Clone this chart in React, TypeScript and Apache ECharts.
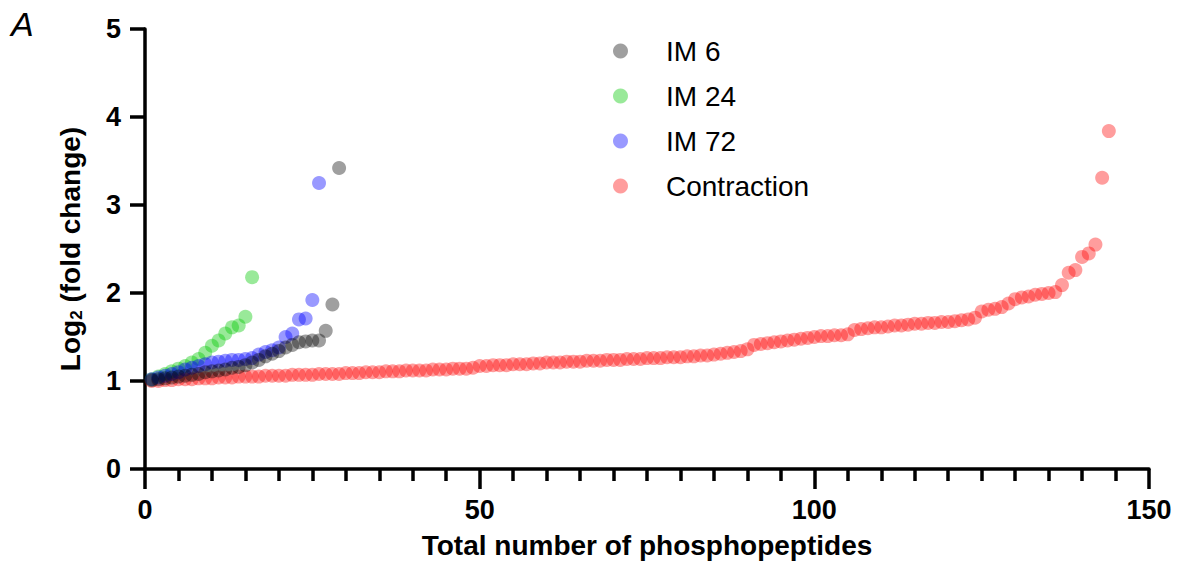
import React, { useEffect, useRef } from "react";
import * as echarts from "echarts";

const seriesNames = ["IM 6", "IM 24", "IM 72", "Contraction"];

const im6Values = [
  1.01, 1.02, 1.03, 1.04, 1.05, 1.06, 1.07, 1.08, 1.1, 1.11,
  1.12, 1.13, 1.15, 1.16, 1.18, 1.21, 1.24, 1.28, 1.31, 1.34,
  1.38, 1.41, 1.44, 1.45, 1.46, 1.46, 1.57, 1.87, 3.42,
];

const im24Values = [
  1.02, 1.05, 1.08, 1.11, 1.14, 1.17, 1.21, 1.25, 1.32, 1.4,
  1.46, 1.54, 1.61, 1.63, 1.73, 2.18,
];

const im72Values = [
  1.02, 1.04, 1.06, 1.08, 1.1, 1.13, 1.15, 1.17, 1.19, 1.21,
  1.22, 1.23, 1.24, 1.24, 1.25, 1.26, 1.3, 1.33, 1.35, 1.38,
  1.5, 1.54, 1.7, 1.71, 1.92, 3.25,
];

const contractionValues = [
  1.0, 1.0, 1.01, 1.01, 1.02, 1.02, 1.02, 1.03, 1.03, 1.03,
  1.04, 1.04, 1.04, 1.05, 1.05, 1.05, 1.05, 1.06, 1.06, 1.06,
  1.06, 1.07, 1.07, 1.07, 1.07, 1.08, 1.08, 1.08, 1.08, 1.09,
  1.09, 1.09, 1.1, 1.1, 1.1, 1.11, 1.11, 1.11, 1.12, 1.12,
  1.12, 1.12, 1.13, 1.13, 1.13, 1.14, 1.14, 1.14, 1.15,
  1.17, 1.17, 1.18, 1.18, 1.18, 1.19, 1.19, 1.19, 1.2, 1.2, 1.21,
  1.21, 1.21, 1.22, 1.22, 1.22, 1.23, 1.23, 1.23, 1.24, 1.24,
  1.24, 1.25, 1.25, 1.25, 1.26, 1.26, 1.26, 1.27, 1.27, 1.27,
  1.28, 1.28, 1.29, 1.29, 1.3, 1.31, 1.32, 1.33, 1.34, 1.36,
  1.41, 1.42, 1.43, 1.44, 1.45, 1.46, 1.47, 1.48, 1.49, 1.5,
  1.51, 1.51, 1.52, 1.52, 1.53,
  1.58, 1.59, 1.6, 1.61, 1.61, 1.62, 1.63, 1.63, 1.64, 1.65,
  1.65, 1.66, 1.66, 1.67, 1.67, 1.68, 1.69, 1.7, 1.72, 1.79,
  1.81, 1.82, 1.84, 1.88, 1.93, 1.95, 1.96, 1.98, 1.99, 2.0,
  2.01, 2.09, 2.23, 2.26, 2.41, 2.45, 2.55, 3.31, 3.84,
];

const seriesColors = [
  "rgba(0,0,0,0.47)",
  "rgba(0,200,0,0.5)",
  "rgba(0,0,255,0.5)",
  "rgba(255,0,0,0.48)",
];

const xTickLabels = [0, 50, 100, 150];
const yTickLabels = [0, 1, 2, 3, 4, 5];

const FONT = "'Liberation Sans', Arial, Helvetica, sans-serif";

function toPoints(values: number[]) {
  return values.map((v, i) => [i + 1, v]);
}

export default function App() {
  const ref = useRef<HTMLDivElement>(null);

  useEffect(() => {
    if (!ref.current) return;
    const chart = echarts.init(ref.current, undefined, { renderer: "svg" });
    const allValues = [im6Values, im24Values, im72Values, contractionValues];
    const drawOrder = [3, 1, 2, 0];
    const axisLine = { show: true, lineStyle: { color: "#000", width: 3.5 } };
    chart.setOption({
      animation: false,
      backgroundColor: "#fff",
      textStyle: { fontFamily: FONT },
      grid: { left: 145, right: 35, top: 29, bottom: 94, containLabel: false },
      legend: {
        data: seriesNames,
        orient: "vertical",
        left: 608,
        top: 31,
        icon: "circle",
        itemWidth: 15,
        itemHeight: 15,
        itemGap: 15,
        textStyle: {
          fontSize: 28,
          color: "#000",
          fontFamily: FONT,
          padding: [0, 0, 0, 33],
          lineHeight: 30,
        },
      },
      graphic: [
        {
          type: "text",
          left: 11,
          top: 7,
          style: {
            text: "A",
            fontSize: 34,
            fontStyle: "italic",
            fontFamily: FONT,
            fill: "#000",
          },
        },
      ],
      xAxis: {
        type: "value",
        min: xTickLabels[0],
        max: xTickLabels[xTickLabels.length - 1],
        interval: 50,
        name: "Total number of phosphopeptides",
        nameLocation: "middle",
        nameGap: 62,
        nameTextStyle: { fontSize: 28, fontWeight: "bold", color: "#000", fontFamily: FONT },
        axisLine,
        axisTick: { show: true, length: 20, lineStyle: { color: "#000", width: 3.5 } },
        minorTick: { show: true, splitNumber: 10, length: 12, lineStyle: { color: "#000", width: 3.5 } },
        axisLabel: { fontSize: 27, fontWeight: "bold", color: "#000", margin: 27, fontFamily: FONT },
        splitLine: { show: false },
        minorSplitLine: { show: false },
      },
      yAxis: {
        type: "value",
        min: yTickLabels[0],
        max: yTickLabels[yTickLabels.length - 1],
        interval: 1,
        name: "Log{sub|2} (fold change)",
        nameLocation: "middle",
        nameGap: 60,
        nameTextStyle: {
          fontSize: 28,
          fontWeight: "bold",
          color: "#000",
          fontFamily: FONT,
          rich: {
            sub: {
              fontSize: 17,
              fontWeight: "bold",
              color: "#000",
              fontFamily: FONT,
              padding: [12, 0, 0, 0],
            },
          },
        },
        axisLine,
        axisTick: { show: true, length: 15, lineStyle: { color: "#000", width: 3.5 } },
        axisLabel: { fontSize: 27, fontWeight: "bold", color: "#000", margin: 24, fontFamily: FONT },
        splitLine: { show: false },
      },
      series: drawOrder.map((idx) => ({
        name: seriesNames[idx],
        type: "scatter",
        symbol: "circle",
        symbolSize: 14,
        data: toPoints(allValues[idx]),
        itemStyle: { color: seriesColors[idx] },
        emphasis: { disabled: true },
      })),
    });
    return () => chart.dispose();
  }, []);

  return (
    <div
      ref={ref}
      style={{ position: "absolute", left: 0, top: 0, width: 1184, height: 564 }}
    />
  );
}
